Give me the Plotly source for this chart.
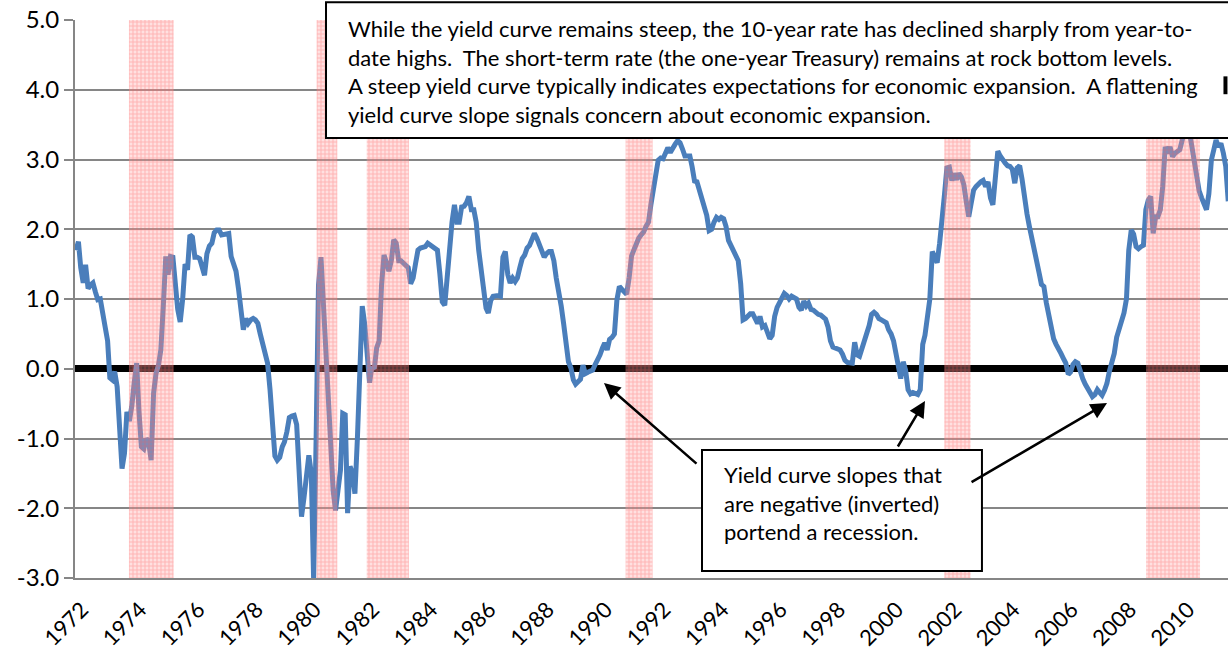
import pandas as pd
import plotly.graph_objects as go

# Yield curve slope (10-year minus 1-year Treasury), monthly from Jan 1972
SLOPE = [
    1.70, 1.82, 1.45, 1.23, 1.49, 1.15, 1.20, 1.23, 1.10, 0.99, 1.00, 0.84,
    0.60, 0.40, -0.13, -0.16, -0.04, -0.26, -1.00, -1.43, -1.21, -0.62, -0.75, -0.54,
    -0.20, 0.08, -0.60, -1.12, -1.15, -1.00, -1.05, -1.31, -0.35, -0.07, 0.05, 0.27,
    0.90, 1.61, 1.35, 1.61, 1.60, 1.13, 0.85, 0.67, 1.00, 1.50, 1.42, 1.92,
    1.89, 1.60, 1.60, 1.58,
    1.45, 1.34, 1.65, 1.76, 1.80, 1.95, 1.99, 1.99, 1.92, 1.93, 1.94, 1.94,
    1.61, 1.50, 1.40, 1.15, 0.85, 0.56, 0.72, 0.65, 0.70, 0.72, 0.70, 0.65,
    0.50, 0.35, 0.20, 0.08, -0.30, -0.83, -1.25, -1.31, -1.27, -1.12, -1.05, -0.90,
    -0.70, -0.68, -0.67,
    -0.80, -1.40, -2.12, -1.85, -1.50, -1.24, -1.50, -3.03, -1.00, 1.20, 1.60, 0.90,
    0.20, -0.50, -1.20, -1.75, -2.03, -1.69, -1.45, -0.64, -0.66, -2.07, -1.40, -1.50,
    -1.79, -1.00, 0.20, 0.90, 0.65, 0.10, -0.20, 0.03, 0.00, 0.30, 0.40, 1.20,
    1.63, 1.52, 1.40, 1.55, 1.85, 1.80, 1.55, 1.55, 1.52,
    1.48, 1.45, 1.22, 1.30, 1.51, 1.70, 1.73, 1.75, 1.75, 1.80, 1.78, 1.74,
    1.73, 1.70, 1.37, 0.96, 0.91, 1.35, 1.80, 2.10, 2.35, 2.10, 2.10, 2.32,
    2.33, 2.38, 2.47, 2.28, 2.28, 2.10, 1.70, 1.45, 1.22, 0.87, 0.80, 0.98,
    1.04, 1.05, 1.05, 1.04,
    1.60, 1.68, 1.35, 1.23, 1.30, 1.25, 1.30, 1.45, 1.58, 1.63, 1.73, 1.77,
    1.85, 1.94, 1.87, 1.78, 1.73, 1.60, 1.65, 1.68, 1.68, 1.55, 1.30, 1.13,
    0.90, 0.65, 0.40, 0.10, 0.01, -0.16, -0.22, -0.18, -0.15, 0.05, -0.07, -0.05,
    -0.03, -0.02,
    0.06, 0.12, 0.20, 0.30, 0.37, 0.27, 0.42, 0.45, 0.50, 0.99, 1.18, 1.14,
    1.10, 1.07, 1.30, 1.62, 1.70, 1.80, 1.87, 1.92, 1.96, 2.04, 2.10, 2.35,
    2.60, 2.78, 2.99, 3.02, 3.01, 3.09, 3.17, 3.10, 3.18, 3.22, 3.27, 3.24,
    3.15, 3.05, 3.05, 3.05,
    2.90, 2.69, 2.68, 2.55, 2.40, 2.30, 2.20, 1.98, 2.00, 2.10, 2.17, 2.14,
    2.17, 2.15, 2.04, 1.84, 1.77, 1.72, 1.66, 1.55, 1.22, 0.70, 0.72, 0.75,
    0.79, 0.79, 0.70, 0.65, 0.75, 0.60, 0.62, 0.50, 0.43, 0.48, 0.75, 0.88,
    0.95, 1.00, 1.08, 1.05, 1.00, 1.04, 1.02,
    1.00, 0.88, 0.84, 0.97, 0.90, 0.94, 0.85, 0.84, 0.80, 0.78, 0.77, 0.74,
    0.71, 0.60, 0.40, 0.31, 0.29, 0.27, 0.27, 0.21, 0.12, 0.09, 0.09, 0.08,
    0.38, 0.20, 0.18, 0.28, 0.38, 0.49, 0.62, 0.78, 0.81, 0.78, 0.72, 0.70,
    0.68,
    0.66, 0.56, 0.50, 0.40, 0.25, 0.05, -0.14, 0.10, -0.02, -0.30, -0.36, -0.34,
    -0.35, -0.37, -0.30, 0.35, 0.48, 0.70, 1.00, 1.68, 1.60, 1.52, 1.80, 2.25,
    2.50, 2.88, 2.89, 2.70, 2.80, 2.71, 2.80, 2.75, 2.64, 2.40, 2.18, 2.37,
    2.56, 2.61, 2.66, 2.68,
    2.70, 2.61, 2.68, 2.45, 2.35, 2.80, 3.12, 3.05, 2.99, 2.95, 2.91, 2.90,
    2.86, 2.66, 2.88, 2.91, 2.72, 2.42, 2.22, 2.04, 1.89, 1.70, 1.53, 1.37,
    1.21, 1.18, 0.95, 0.75, 0.58, 0.43, 0.35, 0.30, 0.22, 0.15, 0.08, -0.08,
    -0.05, 0.06, 0.10, 0.08,
    -0.04, -0.14, -0.22, -0.27, -0.33, -0.40, -0.37, -0.30, -0.34, -0.38, -0.31, -0.21,
    -0.04, 0.11, 0.22, 0.45, 0.58, 0.65, 0.80, 1.00, 1.70, 1.99, 1.93, 1.75,
    1.72, 1.75, 1.77, 2.28, 2.42, 2.47, 1.94, 2.18, 2.18, 2.28, 2.61, 3.18,
    3.09, 3.18, 3.04, 3.09, 3.12,
    3.14, 3.28, 3.45, 3.55, 3.40, 3.20, 2.94, 2.75, 2.55, 2.45, 2.38, 2.28,
    2.51, 2.99, 3.14, 3.28, 3.18, 3.23, 3.09, 2.90, 2.40,
]

# recession shading as drawn on the chart
REC_START = ["1973-10-27", "1980-04-08", "1981-12-27", "1990-11-18", "2001-10-30", "2008-10-04"]
REC_END = ["1975-05-10", "1980-12-23", "1983-06-10", "1991-10-23", "2002-09-24", "2010-08-12"]

YEARS = ["1972", "1974", "1976", "1978", "1980", "1982", "1984", "1986", "1988", "1990",
         "1992", "1994", "1996", "1998", "2000", "2002", "2004", "2006", "2008", "2010"]
Y_TICKS = [-3, -2, -1, 0, 1, 2, 3, 4, 5]
Y_LABELS = ["-3.0", "-2.0", "-1.0", "0.0", "1.0", "2.0", "3.0", "4.0", "5.0"]

Y_MIN, Y_MAX = -3, 5

NOTE_TOP = ("While the yield curve remains steep, the 10-year rate has declined sharply from year-to-<br>"
            "date highs.  The short-term rate (the one-year Treasury) remains at rock bottom levels.<br>"
            "A steep yield curve typically indicates expectations for economic expansion.  A flattening<br>"
            "yield curve slope signals concern about economic expansion.")
NOTE_BOTTOM = "Yield curve slopes that<br>are negative (inverted)<br>portend a recession."

FONT = "Lato"
GRID = "#868686"

dates = pd.date_range("1972-01-01", periods=len(SLOPE), freq="MS")

fig = go.Figure()
fig.add_trace(go.Scatter(
    x=dates, y=SLOPE, mode="lines",
    line=dict(color="#4a7ebb", width=5),
    showlegend=False,
))

# shading drawn over the line, like the original
for s, e in zip(REC_START, REC_END):
    fig.add_trace(go.Scatter(
        x=[s, s, e, e, s], y=[Y_MIN, Y_MAX, Y_MAX, Y_MIN, Y_MIN],
        mode="lines", line=dict(width=0), fill="toself",
        fillcolor="rgba(255,160,160,0.33)",
        fillpattern=dict(shape="+", size=4, solidity=0.45,
                         fgcolor="rgba(255,80,80,0.6)", fillmode="overlay"),
        hoverinfo="skip", showlegend=False,
    ))

fig.update_layout(
    width=1228, height=658,
    margin=dict(l=75, r=0, t=20, b=80),
    plot_bgcolor="white", paper_bgcolor="white",
    font=dict(family=FONT, color="black"),
    xaxis=dict(
        type="date", range=["1971-12-20", "2011-07-29"],
        tickvals=[f"{y}-01-01" for y in YEARS], ticktext=YEARS,
        tickangle=-45, tickfont=dict(size=22),
        ticklabelstandoff=8, ticklabelshift=6, automargin=False,
        showgrid=False, showline=True, linecolor=GRID, linewidth=2,
        ticks="", zeroline=False,
    ),
    yaxis=dict(
        range=[Y_MIN, Y_MAX], tickvals=Y_TICKS, ticktext=Y_LABELS,
        tickfont=dict(size=24), automargin=False,
        showgrid=True, gridcolor=GRID, gridwidth=1.5,
        showline=True, linecolor=GRID, linewidth=2,
        ticks="outside", ticklen=9, tickcolor=GRID, tickwidth=2,
        zeroline=True, zerolinecolor="black", zerolinewidth=7,
    ),
)

# text boxes
fig.add_shape(type="rect", xref="paper", yref="paper", layer="above",
              x0=0.2177, x1=1.05, y0=0.7885, y1=1.032,
              line=dict(color="black", width=2), fillcolor="white")
fig.add_shape(type="rect", xref="paper", yref="paper", layer="above",
              x0=0.5438, x1=0.7866, y0=0.0125, y1=0.2294,
              line=dict(color="black", width=2), fillcolor="white")
fig.add_shape(type="line", xref="paper", yref="paper", layer="above",
              x0=0.9978, x1=0.9978, y0=0.867, y1=0.899,
              line=dict(color="black", width=4))

fig.add_annotation(x=0.235, y=0.9086, xref="paper", yref="paper",
                   xanchor="left", yanchor="middle", align="left",
                   text=NOTE_TOP, showarrow=False, font=dict(size=22))
fig.add_annotation(x=0.5611, y=0.1344, xref="paper", yref="paper",
                   xanchor="left", yanchor="middle", align="left",
                   text=NOTE_BOTTOM, showarrow=False, font=dict(size=22))

# arrows toward the inversions
for x, y, ax, ay in [(0.4588, 0.3495, 94, 82), (0.7372, 0.3172, -28, 47), (0.8951, 0.3136, -137, 80)]:
    fig.add_annotation(x=x, y=y, xref="paper", yref="paper", ax=ax, ay=ay,
                       text="", showarrow=True, arrowhead=2, arrowsize=1.3,
                       arrowwidth=2.5, arrowcolor="black", standoff=0)

# the page body margin would otherwise push the figure off its corner
fig.write_html("out.html", config={"displayModeBar": False},
               post_script="document.body.style.margin='0';")
